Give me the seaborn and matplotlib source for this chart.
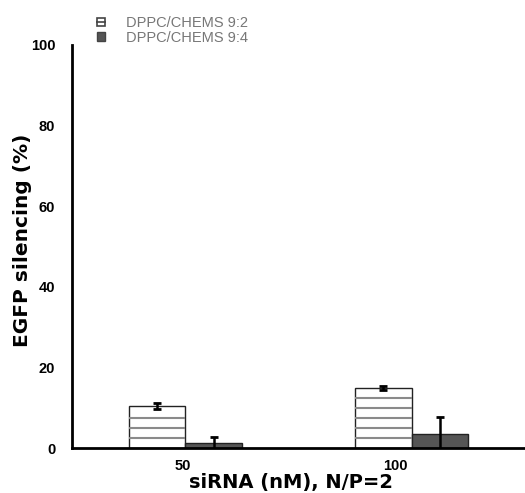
import matplotlib
matplotlib.use("Agg")
import matplotlib.pyplot as plt
import matplotlib.transforms as mtransforms
import seaborn as sns
import pandas as pd
import numpy as np
from matplotlib.patches import Patch
from matplotlib.lines import Line2D
from matplotlib.legend_handler import HandlerTuple

categories = ["50", "100"]
series = ["DPPC/CHEMS 9:2", "DPPC/CHEMS 9:4"]
values_92 = [10.4, 14.9]
values_94 = [1.3, 3.6]
err_92 = [0.7, 0.6]
err_94 = [1.5, 4.2]
hatch_step = 2.5

df = pd.DataFrame({
    "siRNA": categories * 2,
    "formulation": [series[0]] * 2 + [series[1]] * 2,
    "silencing": values_92 + values_94,
})

sns.set_style("white")
plt.rcParams["font.family"] = ["Liberation Sans", "DejaVu Sans"]

fig = plt.figure(figsize=(5.25, 4.93), dpi=100)
ax = fig.add_axes([0.137, 0.091, 0.863, 0.818])

sns.barplot(data=df, x="siRNA", y="silencing", hue="formulation",
            order=categories, hue_order=series,
            palette=["white", "#555555"], width=0.5, gap=0,
            edgecolor="#222222", linewidth=1.0, errorbar=None, ax=ax,
            legend=False)

bars = list(ax.patches)[:4]
for i, p in enumerate(bars):
    ser = 0 if i < 2 else 1
    cat = i % 2
    errs = err_92 if ser == 0 else err_94
    vals = values_92 if ser == 0 else values_94
    x0, w = p.get_x(), p.get_width()
    if ser == 0:
        ys = np.arange(hatch_step, vals[cat] - 0.5, hatch_step)
        ax.hlines(ys, x0, x0 + w, colors="#8a8a8a", linewidth=1.5, zorder=3)
    ax.errorbar(x0 + w / 2, vals[cat], yerr=errs[cat],
                fmt="none", ecolor="black", elinewidth=1.8, capsize=3,
                capthick=2, zorder=5)

ax.set_xlim(-0.5, 1.5)
ax.set_ylim(0, 100)
ax.set_yticks([0, 20, 40, 60, 80, 100])
ax.set_yticklabels(["0", "20", "40", "60", "80", "100"])
ax.set_xticks([0, 1])
ax.set_xticklabels(categories)
for t in ax.get_xticklabels() + ax.get_yticklabels():
    t.set_fontweight("bold")
    t.set_fontsize(10.5)
    t.set_color("black")
ax.tick_params(axis="y", length=0, pad=12)
ax.tick_params(axis="x", length=0, pad=8)
lbl0 = ax.get_xticklabels()[0]
lbl0.set_transform(lbl0.get_transform() +
                   mtransforms.ScaledTranslation(-2 / 100, 0, fig.dpi_scale_trans))
lbl100 = ax.get_xticklabels()[1]
lbl100.set_transform(lbl100.get_transform() +
                     mtransforms.ScaledTranslation(-16 / 100, 0, fig.dpi_scale_trans))

ax.set_xlabel("siRNA (nM), N/P=2", fontweight="bold", fontsize=14,
              family=["DejaVu Sans"], color="black")
ax.set_ylabel("EGFP silencing (%)", fontweight="bold", fontsize=14.5,
              family=["DejaVu Sans"], color="black")
ax.xaxis.set_label_coords(0.5 * (193 + 390) / 453 - 72 / 453, -0.062)
ax.yaxis.set_label_coords(-0.088, 0.5 * (448 - 132 + 448 - 348) / 403)

sns.despine(ax=ax, top=True, right=True)
for s in ["left", "bottom"]:
    ax.spines[s].set_linewidth(2)
    ax.spines[s].set_color("black")

h1 = (Patch(facecolor="white", edgecolor="#444444", linewidth=1.2),
      Line2D([], [], marker="_", markersize=7, markeredgewidth=1.2,
             color="#444444", linestyle="none"))
h2 = Patch(facecolor="#555555", edgecolor="#444444")
leg = fig.legend(handles=[h1, h2], labels=series, loc="upper left",
                 bbox_to_anchor=(0.17, 0.982),
                 handler_map={tuple: HandlerTuple(ndivide=1, pad=0)},
                 frameon=False, fontsize=10.5, handlelength=0.55, handleheight=0.55,
                 handletextpad=1.5, labelspacing=0.05, borderpad=0)
for t in leg.get_texts():
    t.set_color("#777777")

fig.savefig("out.png", dpi=100)
